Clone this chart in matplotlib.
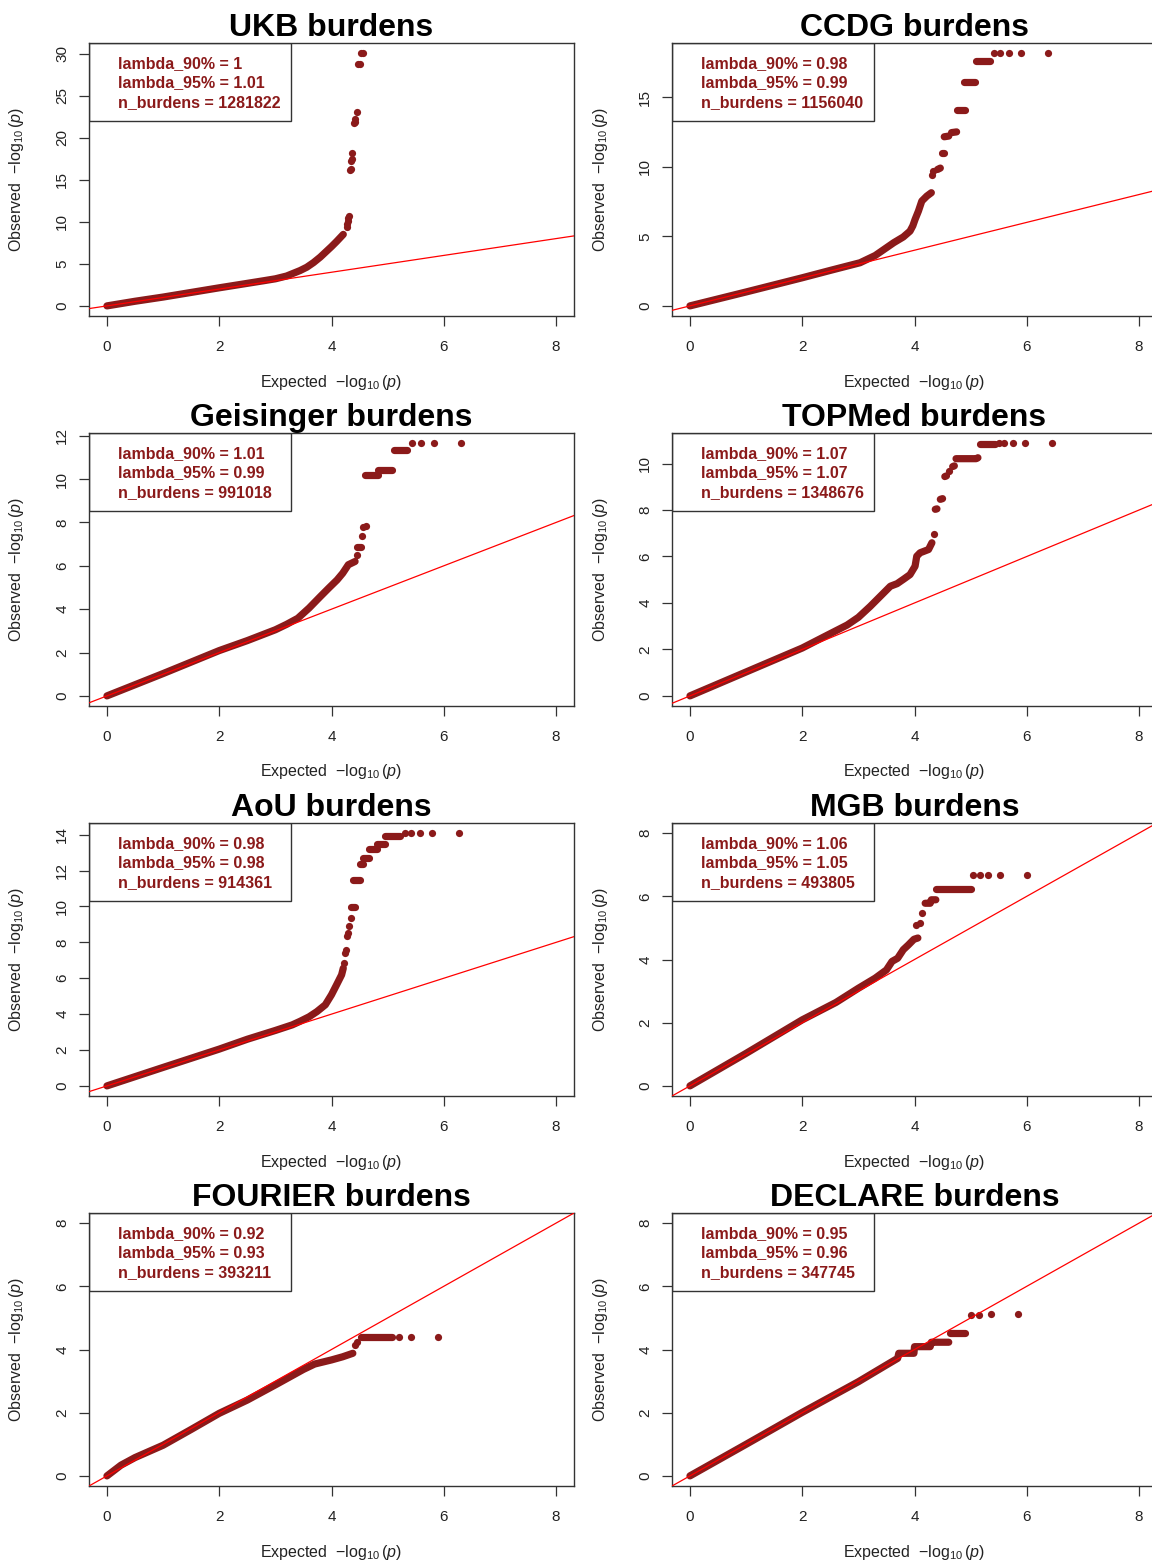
import matplotlib
matplotlib.use("Agg")
import matplotlib.pyplot as plt
from matplotlib.patches import Rectangle

plt.rcParams["font.family"] = ["Liberation Sans", "DejaVu Sans"]
plt.rcParams["mathtext.fontset"] = "custom"
plt.rcParams["mathtext.rm"] = "Liberation Sans"
plt.rcParams["mathtext.it"] = "Liberation Sans:italic"

# -----------------------------------------------------------------------------
# data (expected vs observed -log10 p)
# -----------------------------------------------------------------------------

COHORTS = ["UKB", "CCDG", "Geisinger", "TOPMed", "AoU", "MGB", "FOURIER", "DECLARE"]
LAMBDA_90 = [1.00, 0.98, 1.01, 1.07, 0.98, 1.06, 0.92, 0.95]
LAMBDA_95 = [1.01, 0.99, 0.99, 1.07, 0.98, 1.05, 0.93, 0.96]
N_BURDENS = [1281822, 1156040, 991018, 1348676, 914361, 493805, 393211, 347745]
Y_TICK_STEP = [5, 5, 2, 2, 2, 2, 2, 2]

# dense part of each QQ curve + tied runs (drawn as thick bands)
UKB_SEGMENTS = [
    [(0, 0), (0.5, 0.55), (1, 1.05), (1.5, 1.6), (2, 2.15), (2.5, 2.68), (2.8, 3.0),
     (3.0, 3.22), (3.2, 3.55), (3.44, 4.2), (3.56, 4.6), (3.68, 5.15), (3.8, 5.8),
     (3.92, 6.55), (4.0, 7.05), (4.09, 7.65), (4.21, 8.5)],
]
UKB_POINTS = [(4.27, 9.4), (4.28, 9.7), (4.29, 10.1), (4.30, 10.4), (4.31, 10.7),
              (4.33, 16.1), (4.34, 16.3), (4.35, 17.2), (4.36, 17.5), (4.37, 18.2),
              (4.40, 21.7), (4.41, 21.9), (4.42, 22.2), (4.45, 23.1),
              (4.48, 28.7), (4.50, 28.7), (4.53, 30.05), (4.56, 30.05)]

CCDG_SEGMENTS = [
    [(0, 0), (1, 1.0), (2, 2.02), (2.5, 2.55), (3.03, 3.1), (3.3, 3.62), (3.63, 4.54),
     (3.8, 4.95), (3.92, 5.37), (3.97, 5.75), (4.01, 6.21), (4.07, 6.81), (4.13, 7.53),
     (4.22, 7.89), (4.30, 8.13)],
    [(4.41, 9.8), (4.46, 9.9)],
    [(4.49, 11.0), (4.52, 11.0)],
    [(4.53, 12.15), (4.61, 12.2)],
    [(4.66, 12.45), (4.75, 12.5)],
    [(4.76, 14.06), (4.90, 14.06)],
    [(4.89, 16.05), (5.08, 16.05)],
    [(5.09, 17.57), (5.35, 17.57)],
]
CCDG_POINTS = [(4.31, 9.4), (4.33, 9.69),
               (5.41, 18.16), (5.53, 18.16), (5.68, 18.16), (5.89, 18.16), (6.37, 18.16)]

GEISINGER_SEGMENTS = [
    [(0, 0), (1, 1.03), (2, 2.09), (2.5, 2.55), (3, 3.05), (3.2, 3.3), (3.4, 3.58),
     (3.6, 4.05), (3.8, 4.58), (3.95, 4.97), (4.1, 5.35), (4.2, 5.66), (4.3, 6.05), (4.42, 6.2)],
    [(4.46, 6.85), (4.53, 6.85)],
    [(4.59, 10.2), (4.82, 10.2)],
    [(4.82, 10.43), (5.08, 10.43)],
    [(5.11, 11.35), (5.34, 11.35)],
]
GEISINGER_POINTS = [(4.45, 6.51), (4.54, 7.38), (4.56, 7.77), (4.61, 7.85),
                    (5.43, 11.66), (5.60, 11.66), (5.82, 11.66), (6.30, 11.66)]

TOPMED_SEGMENTS = [
    [(0, 0), (1, 1.03), (2, 2.06), (2.5, 2.68), (2.8, 3.05), (3.0, 3.38), (3.21, 3.85),
     (3.45, 4.43), (3.57, 4.72), (3.69, 4.83), (3.81, 5.03), (3.92, 5.22), (4.01, 5.58),
     (4.04, 6.01), (4.10, 6.16), (4.25, 6.3), (4.31, 6.59)],
    [(4.37, 8.03), (4.40, 8.05)],
    [(4.46, 8.46), (4.50, 8.49)],
    [(4.54, 9.44), (4.57, 9.47)],
    [(4.68, 9.87), (4.71, 9.9)],
    [(4.74, 10.21), (5.10, 10.21), (5.13, 10.25)],
    [(5.16, 10.83), (5.43, 10.83)],
]
TOPMED_POINTS = [(4.34, 6.98), (4.62, 9.68),
                 (5.50, 10.88), (5.60, 10.88), (5.75, 10.88), (5.97, 10.88), (6.45, 10.88)]

AOU_SEGMENTS = [
    [(0, 0), (1, 1.03), (2, 2.05), (2.5, 2.6), (3, 3.09), (3.3, 3.4), (3.44, 3.6),
     (3.6, 3.85), (3.74, 4.14), (3.89, 4.52), (4.0, 5.08), (4.09, 5.63), (4.18, 6.19), (4.21, 6.56)],
    [(4.35, 9.97), (4.42, 9.97)],
    [(4.39, 11.45), (4.51, 11.45)],
    [(4.51, 12.36), (4.57, 12.36)],
    [(4.57, 12.7), (4.66, 12.7)],
    [(4.66, 13.2), (4.81, 13.2)],
    [(4.81, 13.5), (4.96, 13.5)],
    [(4.96, 13.94), (5.22, 13.94)],
]
AOU_POINTS = [(4.22, 6.84), (4.24, 7.4), (4.25, 7.6), (4.27, 8.33), (4.29, 8.5),
              (4.32, 8.92), (4.34, 9.35),
              (5.31, 14.09), (5.42, 14.09), (5.57, 14.09), (5.79, 14.09), (6.27, 14.09)]

MGB_SEGMENTS = [
    [(0, 0), (1, 1.03), (2, 2.09), (2.6, 2.64), (3.0, 3.09), (3.3, 3.41), (3.5, 3.67),
     (3.6, 3.94), (3.7, 4.04), (3.8, 4.31), (3.89, 4.46), (3.99, 4.64), (4.06, 4.68)],
    [(4.19, 5.78), (4.28, 5.78), (4.30, 5.89), (4.38, 5.89)],
    [(4.38, 6.23), (5.0, 6.23)],
]
MGB_POINTS = [(4.02, 5.10), (4.09, 5.15), (4.14, 5.47),
              (5.05, 6.68), (5.16, 6.68), (5.31, 6.68), (5.53, 6.68), (6.0, 6.68)]

FOURIER_SEGMENTS = [
    [(0, 0), (0.25, 0.34), (0.5, 0.58), (1, 0.97), (1.5, 1.47), (2, 1.98), (2.5, 2.4),
     (3, 2.88), (3.5, 3.37), (3.7, 3.54), (4.0, 3.67), (4.2, 3.77), (4.38, 3.88)],
    [(4.52, 4.39), (5.08, 4.39)],
]
FOURIER_POINTS = [(4.41, 4.14), (4.45, 4.25), (5.2, 4.39), (5.42, 4.39), (5.9, 4.39)]

DECLARE_SEGMENTS = [
    [(0, 0), (1, 1.0), (2, 2.01), (3, 2.98), (3.5, 3.51), (3.7, 3.72), (3.72, 3.88),
     (3.99, 3.88), (4.0, 4.09), (4.28, 4.09), (4.3, 4.23), (4.61, 4.23)],
    [(4.64, 4.51), (4.90, 4.51)],
]
DECLARE_POINTS = [(5.0, 5.1), (5.15, 5.1), (5.37, 5.13), (5.84, 5.13)]

SEGMENTS = dict(zip(COHORTS, [UKB_SEGMENTS, CCDG_SEGMENTS, GEISINGER_SEGMENTS, TOPMED_SEGMENTS,
                              AOU_SEGMENTS, MGB_SEGMENTS, FOURIER_SEGMENTS, DECLARE_SEGMENTS]))
POINTS = dict(zip(COHORTS, [UKB_POINTS, CCDG_POINTS, GEISINGER_POINTS, TOPMED_POINTS,
                            AOU_POINTS, MGB_POINTS, FOURIER_POINTS, DECLARE_POINTS]))

# -----------------------------------------------------------------------------
# layout (pixels of a 1152x1564 canvas)
# -----------------------------------------------------------------------------

FIG_W, FIG_H = 1152, 1564
COL_X = [89, 672]
ROW_Y = [43, 433, 823, 1213]
BOX_W, BOX_H = 485, 273
DOT = "#8B1A1A"
FRAME = "#333333"

fig = plt.figure(figsize=(FIG_W / 100, FIG_H / 100), dpi=100)

for i, name in enumerate(COHORTS):
    r, c = divmod(i, 2)
    ax = fig.add_axes([COL_X[c] / FIG_W, 1 - (ROW_Y[r] + BOX_H) / FIG_H,
                       BOX_W / FIG_W, BOX_H / FIG_H])

    for seg in SEGMENTS[name]:
        xs, ys = zip(*seg)
        ax.plot(xs, ys, color=DOT, lw=5.2, solid_capstyle="round",
                solid_joinstyle="round", zorder=2)
    px, py = zip(*POINTS[name])
    ax.plot(px, py, "o", ms=5.2, color=DOT, mec="none", zorder=2)
    ax.axline((0, 0), slope=1, color="red", lw=0.9, zorder=3)

    ymax = max(8, max(max(y for seg in SEGMENTS[name] for _, y in seg), max(py)))
    ax.set_xlim(-0.04 * 8, 8 * 1.04)
    ax.set_ylim(-0.04 * ymax, 1.04 * ymax)

    step = Y_TICK_STEP[i]
    yt = list(range(0, int(1.04 * ymax) + 1, step))
    ax.set_xticks([0, 2, 4, 6, 8], ["0", "2", "4", "6", "8"])
    ax.set_yticks(yt, [str(t) for t in yt], rotation=90, va="center")
    ax.tick_params(direction="out", length=7.2, width=0.9, color=FRAME,
                   labelsize=11, labelcolor="#222222")
    ax.tick_params(axis="x", pad=10)
    ax.tick_params(axis="y", pad=7)
    for sp in ax.spines.values():
        sp.set_linewidth(1.0)
        sp.set_color(FRAME)

    ax.set_title(f"{name} burdens", fontsize=23, fontweight="bold", pad=5)
    ax.set_xlabel(r"Expected  $-\log_{10}(p)$", fontsize=11.5, va="center", color="#222222")
    ax.xaxis.set_label_coords(0.5, -66 / BOX_H)
    ax.set_ylabel(r"Observed  $-\log_{10}(p)$", fontsize=11.5, va="center", color="#222222")
    ax.yaxis.set_label_coords(-72 / BOX_W, 0.5)

    # legend-style box in the top-left corner
    ax.add_patch(Rectangle((0, 1 - 78 / BOX_H), 202 / BOX_W, 78 / BOX_H,
                           transform=ax.transAxes, fill=False, lw=1.0,
                           edgecolor=FRAME, zorder=4))
    lines = [f"lambda_90% = {LAMBDA_90[i]:g}",
             f"lambda_95% = {LAMBDA_95[i]:g}",
             f"n_burdens = {N_BURDENS[i]}"]
    for k, txt in enumerate(lines):
        ax.text(29 / BOX_W, 1 - (20.3 + 19.6 * k) / BOX_H, txt, transform=ax.transAxes,
                color=DOT, fontsize=11.5, fontweight="bold", ha="left", va="center")

fig.savefig("out.png", dpi=100, facecolor="white")
